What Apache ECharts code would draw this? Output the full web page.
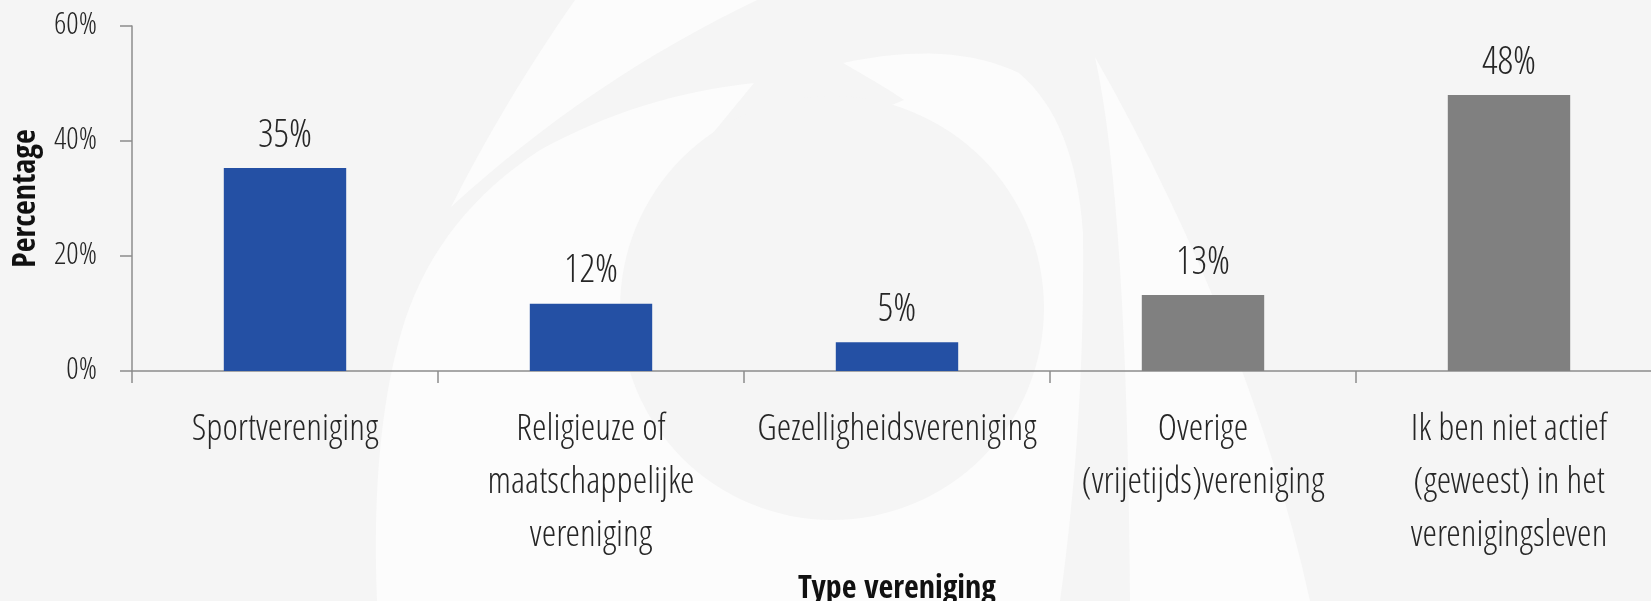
<!DOCTYPE html>
<html>
<head>
<meta charset="utf-8">
<script src="https://cdn.jsdelivr.net/npm/echarts@6/dist/echarts.min.js"></script>
<style>
  html, body { margin: 0; padding: 0; background: #f5f5f5; }
  #chart { width: 1651px; height: 601px; }
</style>
</head>
<body>
<div id="chart"></div>
<script>
const categories = [
  'Sportvereniging',
  'Religieuze of\nmaatschappelijke\nvereniging',
  'Gezelligheidsvereniging',
  'Overige\n(vrijetijds)vereniging',
  'Ik ben niet actief\n(geweest) in het\nverenigingsleven'
]
const values = [35.3, 11.7, 5.0, 13.2, 48.0]
const barColors = ['#2450a4', '#2450a4', '#2450a4', '#808080', '#808080']
const yTicks = [0, 20, 40, 60]

const lightFont = '"Open Sans Condensed Light", "Open Sans", sans-serif'
const boldFont = '"Open Sans Condensed", "Open Sans", sans-serif'
const textColor = '#262626'
const axisColor = '#8c8c8c'
const bg = '#f5f5f5'
const mark = '#fcfcfc'

// outline made of straight (2 numbers) and quadratic (4 numbers) steps
function outline(start, steps) {
  const pts = [start]
  let p = start
  steps.forEach(s => {
    if (s.length === 2) { pts.push(s); p = s; return }
    const c = [s[0], s[1]], e = [s[2], s[3]]
    for (let i = 1; i <= 16; i++) {
      const t = i / 16, u = 1 - t
      pts.push([u * u * p[0] + 2 * u * t * c[0] + t * t * e[0], u * u * p[1] + 2 * u * t * c[1] + t * t * e[1]])
    }
    p = e
  })
  return pts
}

// faint logo watermark behind the plot
const watermark = [
  { type: 'polygon', shape: { points: outline([575, 0], [[757, 0], [590, 80, 451, 207], [505, 100, 575, 0]]) } },
  { type: 'polygon', shape: { points: outline([754, 83], [
    [640, 95, 540, 150], [440, 215, 405, 320], [370, 430, 377, 601], [1060, 601],
    [1085, 420, 1083, 233], [1075, 120, 1019, 73], [950, 40, 843, 63], [890, 90, 904, 100], [832, 130], [713, 133]
  ]) } },
  { type: 'circle', shape: { cx: 832, cy: 308, r: 212 }, style: { fill: bg } },
  { type: 'polygon', shape: { points: outline([1095, 57], [[1127, 200, 1130, 601], [1310, 601], [1250, 330, 1095, 57]]) } }
].map(el => Object.assign({ z: -10, silent: true }, el, {
  style: Object.assign({ fill: mark }, el.style)
}))

const chart = echarts.init(document.getElementById('chart'))

chart.setOption({
  backgroundColor: bg,
  animation: false,
  graphic: { elements: watermark },
  grid: { left: 132, right: -11, top: 26, bottom: 230, outerBoundsMode: 'none' },
  xAxis: {
    type: 'category',
    data: categories,
    name: 'Type vereniging',
    nameLocation: 'middle',
    nameGap: 203,
    nameTextStyle: { fontFamily: boldFont, fontSize: 32, fontWeight: 'bold', color: '#111' },
    axisLine: { lineStyle: { color: axisColor, width: 1.5 } },
    axisTick: { show: true, length: 12, lineStyle: { color: axisColor, width: 1.5 } },
    axisLabel: {
      interval: 0,
      margin: 33,
      fontFamily: lightFont,
      fontSize: 37,
      lineHeight: 53,
      color: textColor,
      align: 'center'
    }
  },
  yAxis: {
    type: 'value',
    min: yTicks[0],
    max: yTicks[yTicks.length - 1],
    interval: 20,
    name: 'Percentage',
    nameLocation: 'middle',
    nameGap: 88,
    nameRotate: 90,
    nameTextStyle: { fontFamily: boldFont, fontSize: 32, fontWeight: 'bold', color: '#111' },
    splitLine: { show: false },
    axisLine: { show: true, lineStyle: { color: axisColor, width: 1.5 } },
    axisTick: { show: true, length: 12, lineStyle: { color: axisColor, width: 1.5 } },
    axisLabel: {
      margin: 35,
      fontFamily: lightFont,
      fontSize: 31,
      color: textColor,
      formatter: '{value}%'
    }
  },
  series: [{
    type: 'bar',
    data: values.map((v, i) => ({ value: v, itemStyle: { color: barColors[i] } })),
    barWidth: '40%',
    label: {
      show: true,
      position: 'top',
      distance: 12,
      fontFamily: lightFont,
      fontSize: 39,
      color: textColor,
      formatter: p => Math.round(p.value) + '%'
    }
  }]
})
</script>
</body>
</html>
